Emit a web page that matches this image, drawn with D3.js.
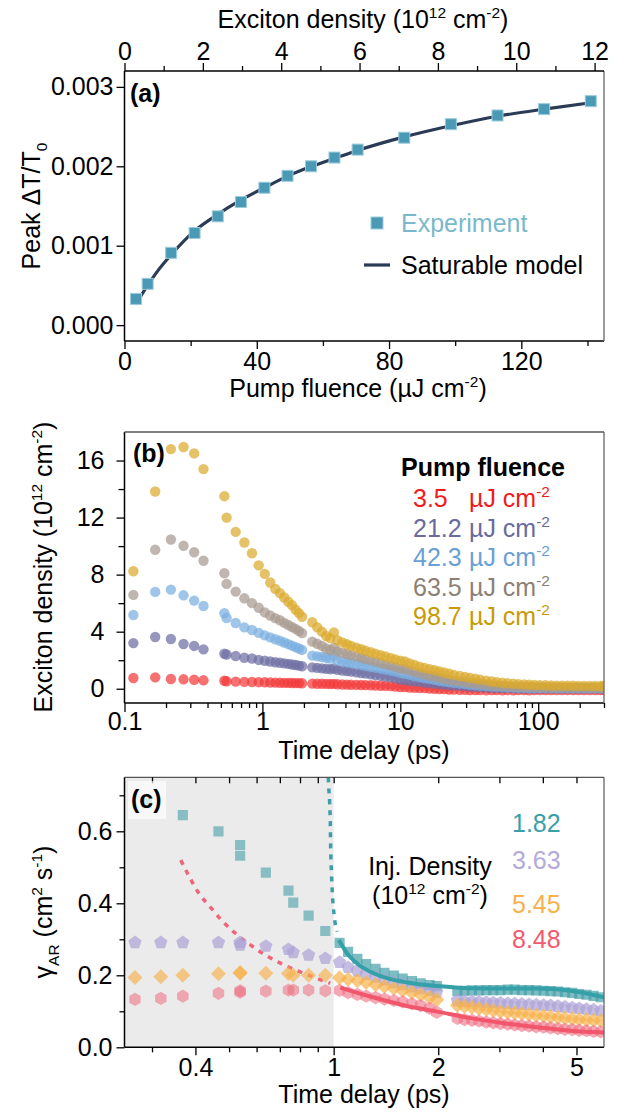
<!DOCTYPE html>
<html>
<head>
<meta charset="utf-8">
<script src="https://cdn.jsdelivr.net/npm/d3@7"></script>
<style>
  body { margin: 0; background: #fff; }
  svg { display: block; }
</style>
</head>
<body>
<svg id="fig" width="629" height="1112"></svg>
<script>
// ------------------------------
// Panel (a): peak signal vs pump fluence
// ------------------------------
const fluence = [3.5, 7.0, 14.1, 21.2, 28.2, 35.2, 42.3, 49.3, 56.4, 63.5, 70.5, 84.6, 98.7, 112.8, 126.9, 141.0];
const peakDT = [0.00033, 0.00052, 0.00091, 0.00116, 0.00137, 0.00155, 0.00173, 0.00188, 0.00200, 0.00211, 0.00221, 0.00236, 0.00253, 0.00264, 0.00272, 0.00282];
const modelFluence = [3.5, 5, 7, 10, 14, 21, 28, 35, 42.3, 49, 56, 63.5, 70.5, 84.6, 98.7, 112.8, 126.9, 141];
const modelDT = [0.00026, 0.00037, 0.00050, 0.00068, 0.00088, 0.00118, 0.00139, 0.00157, 0.00173, 0.00187, 0.00199, 0.00210, 0.00220, 0.00237, 0.00251, 0.00263, 0.00272, 0.00280];

// ------------------------------
// Panel (b): exciton density decay
// ------------------------------
const bTime = [0.116, 0.167, 0.217, 0.268, 0.32, 0.374,
  0.53, 0.55, 0.64, 0.74, 0.84, 0.94, 1.04, 1.14, 1.24, 1.34, 1.44, 1.54, 1.64, 1.74, 1.84, 1.94,
  2.3, 2.5, 2.7, 2.9, 3.1, 3.3, 3.5, 3.8, 4.1, 4.4,
  4.8, 5.2, 5.6, 6.1, 6.6, 7.2, 7.8, 8.5, 9.2, 10,
  10.8, 11.7, 12.7, 13.8, 15, 16.3, 17.7, 19.2, 20.8, 22.6,
  24.5, 27, 29.5, 32, 35, 38, 42, 46, 50, 55,
  60, 66, 72, 79, 86, 94, 103, 113, 124, 136,
  149, 163, 179, 196, 215, 236, 258, 283, 300];
const dens35 = [0.75, 0.8, 0.68, 0.66, 0.63, 0.59,
  0.56, 0.52, 0.5, 0.48, 0.47, 0.46, 0.45, 0.44, 0.43, 0.42, 0.41, 0.41, 0.4, 0.39, 0.39, 0.38,
  0.36, 0.35, 0.35, 0.34, 0.33, 0.34, 0.31, 0.3, 0.29, 0.28,
  0.27, 0.26, 0.25, 0.24, 0.23, 0.21, 0.2, 0.18, 0.16, 0.12,
  0.11, 0.09, 0.07, 0.05, 0.04, 0.02, 0.0, -0.02, -0.03, -0.05,
  -0.06, -0.07, -0.08, -0.09, -0.1, -0.1, -0.11, -0.1, -0.1, -0.11,
  -0.1, -0.11, -0.1, -0.1, -0.11, -0.1, -0.1, -0.09, -0.1, -0.1,
  -0.1, -0.09, -0.1, -0.1, -0.09, -0.1, -0.1, -0.09, -0.1];
const dens212 = [3.2, 3.63, 3.49, 3.14, 3.0, 2.76,
  2.45, 2.4, 2.29, 2.17, 2.12, 2.02, 1.96, 1.91, 1.86, 1.82, 1.78, 1.74, 1.7, 1.66, 1.62, 1.58,
  1.5, 1.46, 1.43, 1.4, 1.37, 1.42, 1.32, 1.28, 1.24, 1.2,
  1.15, 1.1, 1.06, 1.01, 0.96, 0.91, 0.86, 0.8, 0.74, 0.64,
  0.6, 0.56, 0.52, 0.48, 0.44, 0.4, 0.36, 0.32, 0.29, 0.26,
  0.23, 0.2, 0.18, 0.15, 0.13, 0.11, 0.09, 0.07, 0.06, 0.05,
  0.04, 0.03, 0.03, 0.02, 0.02, 0.02, 0.02, 0.01, 0.01, 0.01,
  0.01, 0.01, 0.01, 0.01, 0.01, 0.01, 0.01, 0.01, 0.01];
const dens423 = [5.17, 6.79, 6.95, 6.55, 6.18, 5.8,
  5.29, 4.96, 4.61, 4.3, 4.12, 3.92, 3.74, 3.6, 3.47, 3.36, 3.24, 3.13, 3.02, 2.92, 2.82, 2.72,
  2.32, 2.27, 2.22, 2.17, 2.12, 2.3, 1.98, 1.92, 1.86, 1.8,
  1.73, 1.67, 1.61, 1.54, 1.48, 1.41, 1.35, 1.28, 1.21, 1.1,
  1.04, 0.97, 0.89, 0.82, 0.75, 0.68, 0.62, 0.56, 0.51, 0.46,
  0.41, 0.36, 0.32, 0.28, 0.24, 0.21, 0.18, 0.15, 0.13, 0.11,
  0.09, 0.08, 0.07, 0.06, 0.05, 0.05, 0.04, 0.04, 0.04, 0.03,
  0.03, 0.03, 0.03, 0.03, 0.03, 0.03, 0.03, 0.03, 0.03];
const dens635 = [6.58, 9.74, 10.46, 10.02, 9.57, 8.97,
  8.1, 7.35, 6.81, 6.34, 6.0, 5.68, 5.35, 5.13, 4.95, 4.8, 4.62, 4.47, 4.33, 4.2, 4.05, 3.9,
  3.3, 3.15, 3.0, 2.82, 2.7, 2.88, 2.62, 2.52, 2.44, 2.35,
  2.26, 2.17, 2.08, 1.99, 1.9, 1.8, 1.71, 1.62, 1.52, 1.42,
  1.38, 1.27, 1.17, 1.08, 0.99, 0.91, 0.84, 0.77, 0.7, 0.63,
  0.57, 0.51, 0.46, 0.41, 0.37, 0.33, 0.29, 0.25, 0.22, 0.19,
  0.17, 0.15, 0.14, 0.13, 0.12, 0.11, 0.1, 0.1, 0.09, 0.09,
  0.08, 0.08, 0.08, 0.08, 0.08, 0.07, 0.07, 0.07, 0.07];
const dens987 = [8.24, 13.83, 16.8, 16.95, 16.5, 15.4,
  13.5, 12.0, 11.0, 10.25, 9.5, 8.65, 8.05, 7.45, 7.0, 6.7, 6.4, 6.1, 5.85, 5.55, 5.3, 5.05,
  4.66, 4.3, 4.0, 3.7, 3.55, 3.95, 3.4, 3.25, 3.12, 3.0,
  2.88, 2.77, 2.67, 2.56, 2.46, 2.36, 2.26, 2.16, 2.06, 1.97,
  1.92, 1.78, 1.66, 1.55, 1.45, 1.37, 1.3, 1.22, 1.14, 1.05,
  0.97, 0.89, 0.83, 0.76, 0.7, 0.64, 0.57, 0.51, 0.46, 0.42,
  0.38, 0.35, 0.32, 0.3, 0.28, 0.26, 0.25, 0.24, 0.23, 0.22,
  0.22, 0.21, 0.21, 0.2, 0.2, 0.2, 0.19, 0.19, 0.19];
const fluenceLabels = ["3.5", "21.2", "42.3", "63.5", "98.7"];

// ------------------------------
// Panel (c): gamma_AR vs time delay
// ------------------------------
const cTimeEarly = [0.268, 0.318, 0.368, 0.466, 0.538, 0.538, 0.638, 0.741, 0.765, 0.847, 0.946];
const cTimeLate = [1.04, 1.1, 1.17, 1.24, 1.32, 1.4, 1.49, 1.58, 1.68, 1.78, 1.89, 1.98,
  2.27, 2.38, 2.5, 2.62, 2.75, 2.88, 3.02, 3.17, 3.32, 3.48,
  3.65, 3.83, 4.02, 4.21, 4.42, 4.63, 4.86, 5.09, 5.34, 5.6, 5.87];
const tealTimeEarly = [0.29, 0.368, 0.466, 0.538, 0.538, 0.638, 0.741, 0.765, 0.847, 0.946];
const gamma182Early = [0.678, 0.645, 0.6, 0.562, 0.532, 0.485, 0.435, 0.402, 0.366, 0.323];
const gamma182Late = [0.29, 0.265, 0.246, 0.231, 0.218, 0.207, 0.199, 0.191, 0.184, 0.178, 0.173, 0.17,
  0.156, 0.157, 0.158, 0.158, 0.159, 0.159, 0.159, 0.16, 0.16, 0.159,
  0.159, 0.158, 0.157, 0.156, 0.155, 0.153, 0.151, 0.148, 0.146, 0.143, 0.139];
const gamma363Early = [0.291, 0.291, 0.291, 0.291, 0.291, 0.284, 0.281, 0.272, 0.263, 0.256, 0.247];
const gamma363Late = [0.236, 0.222, 0.212, 0.203, 0.195, 0.187, 0.18, 0.174, 0.168, 0.163, 0.158, 0.153,
  0.13, 0.128, 0.127, 0.126, 0.125, 0.124, 0.123, 0.122, 0.121, 0.12,
  0.119, 0.118, 0.117, 0.116, 0.114, 0.112, 0.11, 0.108, 0.106, 0.104, 0.101];
const gamma545Early = [0.194, 0.196, 0.2, 0.204, 0.206, 0.208, 0.206, 0.205, 0.2, 0.2, 0.2];
const gamma545Late = [0.193, 0.189, 0.185, 0.18, 0.174, 0.169, 0.164, 0.158, 0.152, 0.146, 0.138, 0.132,
  0.117, 0.114, 0.111, 0.108, 0.105, 0.102, 0.099, 0.097, 0.095, 0.093,
  0.091, 0.089, 0.087, 0.085, 0.083, 0.081, 0.079, 0.077, 0.076, 0.075, 0.074];
const gamma848Early = [0.133, 0.136, 0.142, 0.15, 0.153, 0.157, 0.156, 0.159, 0.159, 0.159, 0.157];
const gamma848Late = [0.158, 0.152, 0.147, 0.142, 0.138, 0.134, 0.13, 0.126, 0.121, 0.116, 0.108, 0.097,
  0.08, 0.077, 0.075, 0.073, 0.07, 0.068, 0.066, 0.064, 0.062, 0.06,
  0.059, 0.057, 0.056, 0.054, 0.052, 0.05, 0.049, 0.047, 0.046, 0.044, 0.043];
const tealDashT = [0.965, 0.967, 0.974, 0.978, 0.98, 0.985, 0.991, 1.003, 1.023];
const tealDashV = [0.75, 0.729, 0.678, 0.622, 0.56, 0.49, 0.43, 0.367, 0.321];
const tealFitT = [1.035, 1.093, 1.168, 1.276, 1.425, 1.628, 1.99, 2.48, 3.09, 3.86, 4.82, 6.0];
const tealFitV = [0.298, 0.261, 0.233, 0.21, 0.192, 0.18, 0.17, 0.164, 0.163, 0.163, 0.157, 0.139];
const redDashT = [0.363, 0.384, 0.408, 0.441, 0.477, 0.521, 0.573, 0.632, 0.705, 0.789, 0.88, 0.978];
const redDashV = [0.52, 0.474, 0.43, 0.39, 0.352, 0.317, 0.286, 0.258, 0.233, 0.212, 0.194, 0.178];
const redFitT = [1.045, 1.276, 1.59, 1.99, 2.48, 3.09, 3.86, 4.82, 6.0];
const redFitV = [0.166, 0.141, 0.117, 0.099, 0.081, 0.067, 0.056, 0.046, 0.041];
const densityLabels = ["1.82", "3.63", "5.45", "8.48"];

const FONT = "'Liberation Sans', Arial, Helvetica, sans-serif";
const FS = 25;
const L = 124.5, R = 604;

const svg = d3.select("#fig").attr("font-family", FONT);
svg.append("rect").attr("width", 629).attr("height", 1112).attr("fill", "#fff");

function styleAxis(g) {
  g.select(".domain").remove();
  g.selectAll(".tick line").attr("stroke", "#000").attr("stroke-width", 1.3);
  g.selectAll(".tick text").attr("font-size", FS).attr("fill", "#000").attr("font-family", FONT);
}

function addAxis(axis, tx, ty) {
  svg.append("g").attr("transform", `translate(${tx},${ty})`).call(axis).call(styleAxis);
}

// parts: [{t, sup, sub}] ; writes sub/superscripts with tspans
function richText(sel, parts, size) {
  let shift = 0;
  parts.forEach(p => {
    const target = p.sup ? -0.4 * size : p.sub ? 0.28 * size : 0;
    sel.append("tspan")
      .attr("dy", target - shift)
      .attr("font-size", (p.sup || p.sub) ? size * 0.62 : size)
      .text(p.t);
    shift = target;
  });
  return sel;
}

function frame(top, bottom, withTop) {
  svg.append("line").attr("x1", L).attr("x2", L).attr("y1", top).attr("y2", bottom).attr("stroke", "#000").attr("stroke-width", 1.5);
  svg.append("line").attr("x1", L).attr("x2", R).attr("y1", bottom).attr("y2", bottom).attr("stroke", "#000").attr("stroke-width", 1.5);
  svg.append("line").attr("x1", R).attr("x2", R).attr("y1", top).attr("y2", bottom).attr("stroke", "#666").attr("stroke-width", 1.3);
  svg.append("line").attr("x1", L).attr("x2", R).attr("y1", top).attr("y2", top)
    .attr("stroke", withTop ? "#000" : "#555").attr("stroke-width", withTop ? 1.5 : 1.3);
}

function clip(id, top, bottom) {
  svg.append("clipPath").attr("id", id).append("rect")
    .attr("x", L).attr("y", top).attr("width", R - L).attr("height", bottom - top);
}

function polygonPath(n, r, rot) {
  const p = d3.path();
  for (let i = 0; i < n; i++) {
    const a = rot + i * 2 * Math.PI / n;
    if (i === 0) p.moveTo(r * Math.cos(a), r * Math.sin(a));
    else p.lineTo(r * Math.cos(a), r * Math.sin(a));
  }
  p.closePath();
  return p.toString();
}

// ------------------------------
// (a)
// ------------------------------
const aTop = 71, aBottom = 341;
const xA = d3.scaleLinear().domain([0, 145]).range([L, R]);
const xATop = d3.scaleLinear().domain([0, 12.24]).range([L, R]);
const yA = d3.scaleLinear().domain([-0.0002, 0.0032]).range([aBottom, aTop]);

frame(aTop, aBottom, true);
addAxis(d3.axisBottom(xA).tickValues([0, 40, 80, 120]).tickSize(8).tickPadding(3).tickFormat(d3.format("d")), 0, aBottom);
addAxis(d3.axisBottom(xA).tickValues([20, 60, 100, 140]).tickSize(5).tickFormat(""), 0, aBottom);
addAxis(d3.axisLeft(yA).tickValues([0, 0.001, 0.002, 0.003]).tickSize(8).tickPadding(3).tickFormat(d3.format(".3f")), L, 0);
addAxis(d3.axisTop(xATop).tickValues([0, 2, 4, 6, 8, 10, 12]).tickSize(8).tickPadding(3).tickFormat(d3.format("d")), 0, aTop);
addAxis(d3.axisTop(xATop).tickValues([1, 3, 5, 7, 9, 11]).tickSize(5).tickFormat(""), 0, aTop);

richText(svg.append("text").attr("x", 363).attr("y", 28).attr("text-anchor", "middle"),
  [{ t: "Exciton density (10" }, { t: "12", sup: true }, { t: " cm" }, { t: "-2", sup: true }, { t: ")" }], FS);
richText(svg.append("text").attr("x", 358).attr("y", 397).attr("text-anchor", "middle"),
  [{ t: "Pump fluence (µJ cm" }, { t: "-2", sup: true }, { t: ")" }], FS);
richText(svg.append("text").attr("transform", "translate(40,206) rotate(-90)").attr("text-anchor", "middle"),
  [{ t: "Peak ΔT/T" }, { t: "0", sub: true }], FS);

const modelLine = d3.line().x((d, i) => xA(modelFluence[i])).y(d => yA(d)).curve(d3.curveMonotoneX);
svg.append("path").datum(modelDT).attr("d", modelLine)
  .attr("fill", "none").attr("stroke", "#2b3a55").attr("stroke-width", 3.2);

svg.selectAll(".sq-a").data(peakDT).enter().append("rect").attr("class", "sq-a")
  .attr("x", (d, i) => xA(fluence[i]) - 5.5).attr("y", d => yA(d) - 5.5)
  .attr("width", 11).attr("height", 11)
  .attr("fill", "#4a9ab5").attr("stroke", "#9ccbdb").attr("stroke-width", 1);

svg.append("text").attr("x", 130).attr("y", 102).attr("font-size", FS).attr("font-weight", "bold").text("(a)");

// legend (a)
svg.append("rect").attr("x", 371).attr("y", 217).attr("width", 12).attr("height", 12)
  .attr("fill", "#4a9ab5").attr("stroke", "#9ccbdb");
svg.append("text").attr("x", 401).attr("y", 232).attr("font-size", FS).attr("fill", "#7ab9cc").text("Experiment");
svg.append("line").attr("x1", 364).attr("x2", 390).attr("y1", 265).attr("y2", 265)
  .attr("stroke", "#2b3a55").attr("stroke-width", 3.2);
svg.append("text").attr("x", 401).attr("y", 274).attr("font-size", FS).attr("fill", "#000").text("Saturable model");

// ------------------------------
// (b)
// ------------------------------
const bTop = 432, bBottom = 703;
const xB = d3.scaleLog().domain([0.1, 300]).range([L, R]);
const yB = d3.scaleLinear().domain([-1, 18]).range([bBottom, bTop]);

clip("clip-b", bTop, bBottom);
const bSeries = [
  { vals: dens35, color: "#f23a3a", text: "#ee1c1c" },
  { vals: dens212, color: "#6f6fa3", text: "#6a6a9e" },
  { vals: dens423, color: "#7aaee0", text: "#6a9fd6" },
  { vals: dens635, color: "#a79a90", text: "#8e7f75" },
  { vals: dens987, color: "#dba92c", text: "#c99a06" }
];
const gB = svg.append("g").attr("clip-path", "url(#clip-b)");
bSeries.forEach(s => {
  gB.append("g").selectAll("circle").data(s.vals).enter().append("circle")
    .attr("cx", (d, i) => xB(bTime[i])).attr("cy", d => yB(d)).attr("r", 5.2)
    .attr("fill", s.color).attr("fill-opacity", 0.72);
});
frame(bTop, bBottom, false);

const bMinor = [];
[0.1, 1, 10, 100].forEach(dec => {
  for (let m = 2; m <= 9; m++) if (m * dec <= 300) bMinor.push(m * dec);
});
addAxis(d3.axisBottom(xB).tickValues([0.1, 1, 10, 100]).tickSize(9).tickPadding(0).tickFormat(d => String(d)), 0, bBottom);
addAxis(d3.axisBottom(xB).tickValues(bMinor).tickSize(5).tickFormat(""), 0, bBottom);
addAxis(d3.axisLeft(yB).tickValues([0, 4, 8, 12, 16]).tickSize(8).tickPadding(12).tickFormat(d3.format("d")), L, 0);
addAxis(d3.axisLeft(yB).tickValues([2, 6, 10, 14]).tickSize(6).tickFormat(""), L, 0);

svg.append("text").attr("x", 364).attr("y", 759).attr("text-anchor", "middle").attr("font-size", FS).text("Time delay (ps)");
richText(svg.append("text").attr("transform", "translate(52,567) rotate(-90)").attr("text-anchor", "middle"),
  [{ t: "Exciton density (10" }, { t: "12", sup: true }, { t: " cm" }, { t: "-2", sup: true }, { t: ")" }], FS);
svg.append("text").attr("x", 133).attr("y", 462).attr("font-size", FS).attr("font-weight", "bold").text("(b)");

// legend (b)
svg.append("text").attr("x", 483).attr("y", 476).attr("text-anchor", "middle")
  .attr("font-size", FS).attr("font-weight", "bold").text("Pump fluence");
fluenceLabels.forEach((lab, i) => {
  const y = 507 + i * 29.5;
  svg.append("text").attr("x", 413).attr("y", y).attr("font-size", FS).attr("fill", bSeries[i].text).text(lab);
  richText(svg.append("text").attr("x", 469).attr("y", y).attr("fill", bSeries[i].text),
    [{ t: "µJ cm" }, { t: "-2", sup: true }], FS);
});

// ------------------------------
// (c)
// ------------------------------
const cTop = 777.3, cBottom = 1047.3;
const xC = d3.scaleLog().domain([0.25, 6]).range([L, R]);
const yC = d3.scaleLinear().domain([0, 0.75]).range([cBottom, cTop]);

clip("clip-c", cTop, cBottom);
svg.append("rect").attr("x", xC(0.25)).attr("y", cTop).attr("width", xC(1) - xC(0.25)).attr("height", cBottom - cTop)
  .attr("fill", "#ebebeb");

const gC = svg.append("g").attr("clip-path", "url(#clip-c)");
const fitLine = (ts) => d3.line().x((d, i) => xC(ts[i])).y(d => yC(d)).curve(d3.curveMonotoneX);

gC.append("path").datum(tealDashV).attr("d", fitLine(tealDashT))
  .attr("fill", "none").attr("stroke", "#3a9fa7").attr("stroke-width", 3.5).attr("stroke-dasharray", "5,6");
gC.append("path").datum(redDashV).attr("d", fitLine(redDashT))
  .attr("fill", "none").attr("stroke", "#ee6478").attr("stroke-width", 3.5).attr("stroke-dasharray", "5,6");

const squarePath = polygonPath(4, 7.2, Math.PI / 4);
const pentaPath = polygonPath(5, 7, -Math.PI / 2);
const diamondPath = polygonPath(4, 7.5, -Math.PI / 2);
const hexPath = polygonPath(6, 6.6, -Math.PI / 2);

function markers(times, vals, shape, color, opacity) {
  gC.append("g").selectAll("path").data(vals).enter().append("path")
    .attr("transform", (d, i) => `translate(${xC(times[i])},${yC(d)})`)
    .attr("d", shape).attr("fill", color).attr("fill-opacity", opacity);
}
markers(tealTimeEarly, gamma182Early, squarePath, "#46a0a8", 0.6);
markers(cTimeLate, gamma182Late, squarePath, "#46a0a8", 0.7);
markers(cTimeEarly, gamma363Early, pentaPath, "#ada3d6", 0.7);
markers(cTimeLate, gamma363Late, pentaPath, "#ada3d6", 0.7);
markers(cTimeEarly, gamma545Early, diamondPath, "#f6b04c", 0.65);
markers(cTimeLate, gamma545Late, diamondPath, "#f6b04c", 0.7);
markers(cTimeEarly, gamma848Early, hexPath, "#ee6c80", 0.55);
markers(cTimeLate, gamma848Late, hexPath, "#ee6c80", 0.6);

gC.append("path").datum(tealFitV).attr("d", fitLine(tealFitT))
  .attr("fill", "none").attr("stroke", "#34a0a8").attr("stroke-width", 4);
gC.append("path").datum(redFitV).attr("d", fitLine(redFitT))
  .attr("fill", "none").attr("stroke", "#f2566c").attr("stroke-width", 4);

frame(cTop, cBottom, false);
addAxis(d3.axisBottom(xC).tickValues([0.4, 1, 2, 5]).tickSize(8).tickPadding(3).tickFormat(d => String(d)), 0, cBottom);
addAxis(d3.axisBottom(xC).tickValues([0.3, 0.5, 0.6, 0.7, 0.8, 0.9, 3, 4]).tickSize(5).tickFormat(""), 0, cBottom);
addAxis(d3.axisTop(xC).tickValues([0.3, 0.4, 0.5, 0.6, 0.7, 0.8, 0.9, 1, 2, 3, 4, 5]).tickSize(-6).tickFormat(""), 0, cTop);
addAxis(d3.axisLeft(yC).tickValues([0, 0.2, 0.4, 0.6]).tickSize(8).tickPadding(4).tickFormat(d3.format(".1f")), L, 0);
addAxis(d3.axisLeft(yC).tickValues([0.1, 0.3, 0.5, 0.7]).tickSize(5).tickFormat(""), L, 0);

svg.append("text").attr("x", 364).attr("y", 1103).attr("text-anchor", "middle").attr("font-size", FS).text("Time delay (ps)");
richText(svg.append("text").attr("transform", "translate(52,912) rotate(-90)").attr("text-anchor", "middle"),
  [{ t: "γ" }, { t: "AR", sub: true }, { t: " (cm" }, { t: "2", sup: true }, { t: " s" }, { t: "-1", sup: true }, { t: ")" }], FS);

svg.append("rect").attr("x", 128).attr("y", 781).attr("width", 38).attr("height", 38)
  .attr("fill", "#fff").attr("fill-opacity", 0.65);
svg.append("text").attr("x", 131).attr("y", 808).attr("font-size", FS).attr("font-weight", "bold").text("(c)");

// legend (c)
const cColors = ["#3aa0a8", "#b4aad8", "#f8b04a", "#f25a6e"];
const cBase = [832, 869, 913, 948];
densityLabels.forEach((lab, i) => {
  svg.append("text").attr("x", 512).attr("y", cBase[i]).attr("font-size", FS).attr("fill", cColors[i]).text(lab);
});
svg.append("text").attr("x", 430).attr("y", 875).attr("text-anchor", "middle").attr("font-size", FS).text("Inj. Density");
richText(svg.append("text").attr("x", 430).attr("y", 904).attr("text-anchor", "middle"),
  [{ t: "(10" }, { t: "12", sup: true }, { t: " cm" }, { t: "-2", sup: true }, { t: ")" }], FS);
</script>
</body>
</html>
